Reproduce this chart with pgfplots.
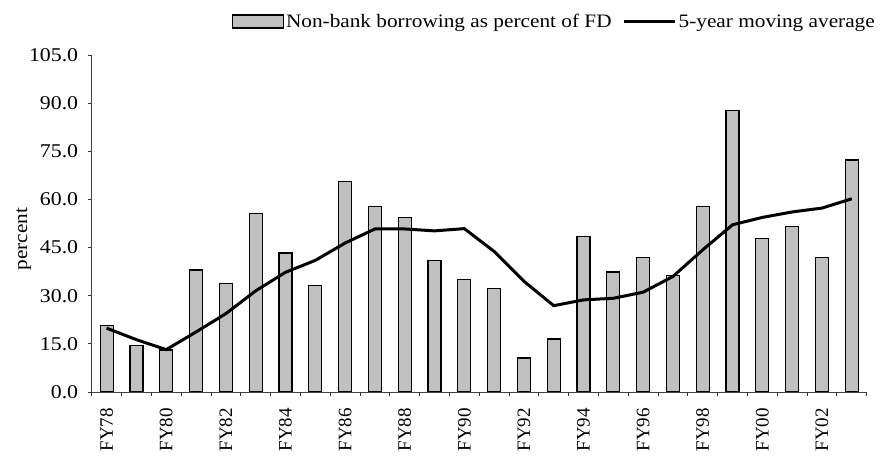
\documentclass[border=0pt]{standalone}
\usepackage{pgfplots}
\pgfplotsset{compat=1.18}
\usepackage{fontspec}
\setmainfont{Liberation Serif}[FakeStretch=1.12]
\newfontfamily\plainserif{Liberation Serif}
\definecolor{barfill}{RGB}{192,192,192}
\begin{document}
\begin{tikzpicture}
\begin{axis}[
  scale only axis,
  width=775pt, height=337pt,
  xmin=-0.5, xmax=25.5,
  ymin=0, ymax=105,
  axis x line*=bottom,
  axis y line*=left,
  axis line style={-, black!75, line width=0.8pt},
  tick align=outside,
  major tick length=4pt,
  tick style={black!80, line width=0.8pt},
  ytick={0,15,30,45,60,75,90,105},
  yticklabel style={xshift=-6pt, font=\fontsize{19.5}{22}\selectfont, /pgf/number format/.cd, fixed, fixed zerofill, precision=1, assume math mode=true},
  xtick={-0.5,0.5,...,25.5},
  xticklabels={},
  extra x ticks={0,2,4,6,8,10,12,14,16,18,20,22,24},
  extra x tick labels={FY78,FY80,FY82,FY84,FY86,FY88,FY90,FY92,FY94,FY96,FY98,FY00,FY02},
  extra x tick style={major tick length=0pt, xticklabel style={yshift=-16pt, rotate=90, anchor=east, inner sep=0pt, font=\plainserif\fontsize{19}{22}\selectfont}},
  ylabel={percent},
  ylabel style={font=\fontsize{19}{22}\selectfont, at={(axis description cs:-0.0875,0.454)}, anchor=center, rotate=0},
  legend columns=2,
  legend cell align=left,
  legend style={draw=none, fill=none, font=\fontsize{19}{22}\selectfont, at={(1.0133,1.0994)}, anchor=east, inner sep=0pt, nodes={inner xsep=2pt}, /tikz/every even column/.append style={column sep=9pt}},
]
\addplot[ybar, bar width=13pt, fill=barfill, draw=black, line width=1.2pt,
  legend image code/.code={\draw[fill=barfill, draw=black, line width=1.2pt] (-3pt,-6.5pt) rectangle (48pt,6.5pt);}]
  coordinates {
  (0,20.6) (1,14.6) (2,13.1) (3,38.0) (4,33.9) (5,55.5) (6,43.3) (7,33.3)
  (8,65.5) (9,57.9) (10,54.4) (11,40.9) (12,35.1) (13,32.2) (14,10.6) (15,16.5)
  (16,48.5) (17,37.4) (18,42.0) (19,36.2) (20,57.8) (21,87.6) (22,47.8) (23,51.5)
  (24,42.0) (25,72.3)};
\addlegendentry{Non-bank borrowing as percent of FD}
\addplot[black, line width=3pt, mark=none,
  legend image code/.code={\draw[black, line width=3pt] (0pt,0pt) -- (51pt,0pt);}]
  coordinates {
  (0,19.9) (1,16.3) (2,13.2) (3,18.7) (4,24.4) (5,31.5) (6,37.3) (7,41.0)
  (8,46.4) (9,50.8) (10,50.8) (11,50.2) (12,50.9) (13,43.8) (14,34.5) (15,26.9)
  (16,28.7) (17,29.2) (18,31.1) (19,36.0) (20,44.3) (21,52.1) (22,54.4) (23,56.1)
  (24,57.3) (25,60.2)};
\addlegendentry{5-year moving average}
\end{axis}
\pgfresetboundingbox
\path[use as bounding box] (-91.7pt,-65pt) rectangle (789.3pt,392pt);
\end{tikzpicture}
\end{document}
